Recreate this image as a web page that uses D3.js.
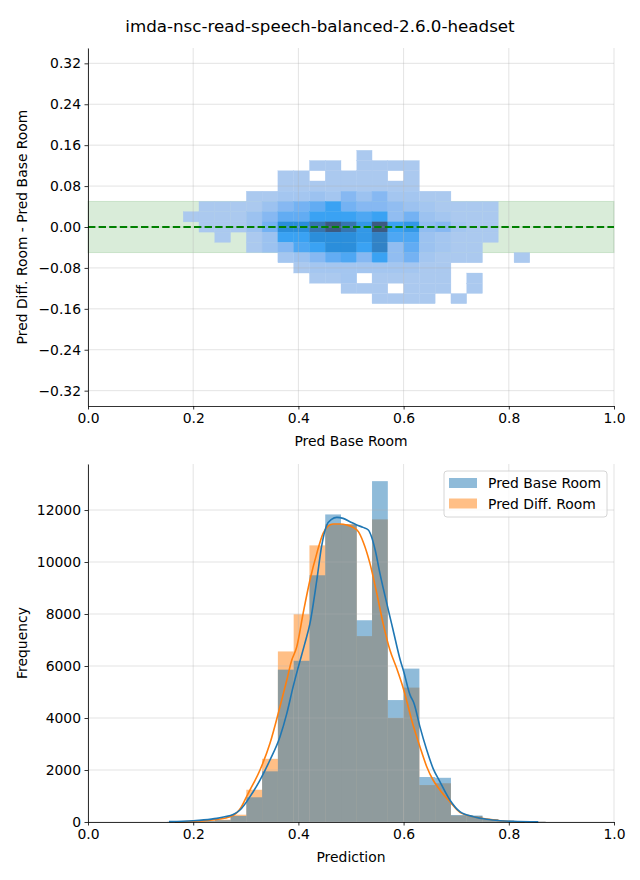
<!DOCTYPE html>
<html>
<head>
<meta charset="utf-8">
<script src="https://cdn.jsdelivr.net/npm/d3@7"></script>
<style>
  body { margin: 0; background: #fff; }
  text { font-family: "DejaVu Sans", sans-serif; }
</style>
</head>
<body>
<svg id="chart" width="640" height="880"></svg>
<script>
// ---------------- DATA ----------------
const title = "imda-nsc-read-speech-balanced-2.6.0-headset";
const seriesNames = ["Pred Base Room", "Pred Diff. Room"];

// histogram bin edges (shared by 1D and 2D histograms)
const binEdges = [0.151, 0.181, 0.211, 0.241, 0.271, 0.301, 0.331, 0.361, 0.391, 0.421,
                  0.451, 0.481, 0.511, 0.540, 0.570, 0.600, 0.630, 0.660, 0.690, 0.720,
                  0.750, 0.780, 0.810, 0.840, 0.870];

// bottom histogram counts per bin
const baseCounts = [10, 20, 40, 70, 230, 950, 1950, 5860, 6200, 9490, 11830, 11440,
                    7760, 13110, 4690, 5900, 1730, 1700, 270, 250, 110, 50, 30, 15];
const diffCounts = [5, 15, 30, 90, 280, 1240, 2430, 6560, 7990, 10640, 11450, 11460,
                    7150, 11640, 4000, 5170, 1420, 1490, 250, 230, 100, 45, 25, 10];

// KDE curves (x, count-scaled density)
const baseKdeX = [0.154, 0.18, 0.20, 0.22, 0.245, 0.26, 0.276, 0.289, 0.308, 0.327, 0.346, 0.365,
                  0.378, 0.390, 0.400, 0.412, 0.422, 0.435, 0.444, 0.454, 0.463, 0.473, 0.485,
                  0.498, 0.511, 0.523, 0.533, 0.539, 0.546, 0.555, 0.568, 0.580, 0.594, 0.600,
                  0.612, 0.620, 0.631, 0.644, 0.656, 0.669, 0.688, 0.707, 0.733, 0.758, 0.783,
                  0.808, 0.856];
const baseKdeY = [15, 30, 50, 80, 140, 200, 290, 462, 974, 1615, 2385, 3282,
                  4179, 5205, 5974, 6850, 7641, 9308, 10590, 11423, 11641, 11718, 11679,
                  11551, 11423, 11333, 11230, 10974, 10462, 9564, 8410, 7385, 6200, 5800,
                  4900, 4550, 3667, 2769, 2064, 1551, 846, 397, 205, 103, 51,
                  26, 5];
const diffKdeX = [0.165, 0.20, 0.245, 0.270, 0.283, 0.291, 0.302, 0.308, 0.327, 0.346, 0.365,
                  0.378, 0.387, 0.397, 0.409, 0.422, 0.435, 0.447, 0.457, 0.466, 0.479,
                  0.492, 0.504, 0.514, 0.523, 0.536, 0.549, 0.561, 0.574, 0.587, 0.600,
                  0.618, 0.631, 0.644, 0.656, 0.669, 0.688, 0.707, 0.733, 0.758, 0.783,
                  0.800, 0.830];
const diffKdeY = [5, 25, 100, 200, 360, 560, 1000, 1231, 2000, 3026, 4436,
                  5462, 6200, 6744, 8026, 9308, 10333, 11103, 11385, 11462, 11462,
                  11423, 11333, 11167, 10782, 9949, 8795, 7641, 6615, 5900, 5100,
                  3730, 2897, 2128, 1615, 1231, 782, 372, 205, 115, 51,
                  20, 5];

// 2D histogram: row centres (difference) and shading level per bin (columns aligned to binEdges)
const rowCenters = [0.14, 0.12, 0.10, 0.08, 0.06, 0.04, 0.02, 0.00, -0.02, -0.04, -0.06, -0.08, -0.10, -0.12, -0.14];
const rowHeight = 0.02;
const density2d = [
 // k: 0  1  2  3  4  5   6   7   8   9  10  11  12  13  14  15  16  17  18  19  20  21  22  23
  [0, 0, 0, 0, 0, 0, 0,  0,  0,  0,  0,  0,  1,  0,  0,  0,  0,  0,  0,  0,  0,  0,  0,  0],
  [0, 0, 0, 0, 0, 0, 0,  0,  0,  1,  1,  0,  1,  1,  1,  1,  0,  0,  0,  0,  0,  0,  0,  0],
  [0, 0, 0, 0, 0, 0, 0,  1,  1,  0,  1,  1,  1,  1,  0,  1,  0,  0,  0,  0,  0,  0,  0,  0],
  [0, 0, 0, 0, 0, 0, 0,  1,  1,  1,  1,  1,  1,  1,  1,  1,  0,  0,  0,  0,  0,  0,  0,  0],
  [0, 0, 0, 0, 0, 1, 1,  1.5,1.5,2,  1.5,3,  2,  3,  1.5,1.5,1,  1,  0,  0,  0,  0,  0,  0],
  [0, 0, 1, 1, 1, 1, 2,  3,  3.5,4,  5,  3.5,3,  3,  2.5,2,  1.5,1,  1,  1,  1,  0,  0,  0],
  [0, 1, 1, 1, 1, 2, 3,  4,  4,  5,  5,  5,  4.5,5,  2.5,3.5,2,  1.5,1,  1,  1,  0,  0,  0],
  [0, 0, 1, 1, 1, 2, 3.5,6,  6,  7,  8,  7,  5.5,8,  5,  5.5,2.5,3,  1.5,1,  1,  0,  0,  0],
  [0, 0, 0, 1, 0, 1, 2,  5,  5,  6,  6,  6,  5.5,6.5,4.5,4.5,2,  1.5,1,  1,  1,  0,  0,  0],
  [0, 0, 0, 0, 0, 1, 2,  3,  4.5,5,  6,  6,  5,  6.5,2.5,4,  2,  1.5,1,  1,  0,  0,  0,  0],
  [0, 0, 0, 0, 0, 0, 0,  1.5,2,  3,  4,  4.5,3,  5,  2.5,3.5,1.5,1,  1,  1,  0,  0,  1,  0],
  [0, 0, 0, 0, 0, 0, 0,  0,  1,  1.5,1.5,1.5,1.5,1.5,1.5,1.5,1,  1,  0,  0,  0,  0,  0,  0],
  [0, 0, 0, 0, 0, 0, 0,  0,  0,  1,  1,  1.5,0,  1,  1,  1,  1,  1,  0,  1,  0,  0,  0,  0],
  [0, 0, 0, 0, 0, 0, 0,  0,  0,  0,  0,  1,  1,  1,  0,  1,  1,  1,  0,  1,  0,  0,  0,  0],
  [0, 0, 0, 0, 0, 0, 0,  0,  0,  0,  0,  0,  0,  1,  1,  1,  1,  0,  1,  0,  0,  0,  0,  0]
];

const bandHalfWidth = 0.05;
const topYTicks = [-0.32, -0.24, -0.16, -0.08, 0, 0.08, 0.16, 0.24, 0.32];
const xTicks = [0, 0.2, 0.4, 0.6, 0.8, 1.0];
const bottomYTicks = [0, 2000, 4000, 6000, 8000, 10000, 12000];

// ---------------- DRAW ----------------
const svg = d3.select("#chart");
const C0 = "#1f77b4", C1 = "#ff7f0e";
const gridStroke = "#b0b0b0";
const FS = 13.9;

svg.append("text").attr("x", 320).attr("y", 32).attr("text-anchor", "middle")
  .attr("font-size", 16.7).text(title);

// ---- Top panel ----
const L = 88, R = 614;
const x1 = d3.scaleLinear().domain([0, 1]).range([L, R]);
const y1 = d3.scaleLinear().domain([-0.35, 0.35]).range([406, 48]);
const topG = svg.append("g");

topG.append("rect")
  .attr("x", x1(0)).attr("width", x1(1) - x1(0))
  .attr("y", y1(bandHalfWidth)).attr("height", y1(-bandHalfWidth) - y1(bandHalfWidth))
  .attr("fill", "green").attr("fill-opacity", 0.15)
  .attr("stroke", "green").attr("stroke-opacity", 0.15).attr("stroke-width", 1);

const shade = d3.scaleLinear()
  .domain([1, 2, 3, 4, 5, 6, 7, 8])
  .range(["#abc9ef", "#9cc2f0", "#86b8f2", "#62acf3", "#3aa2f3", "#2b8edb", "#3675b0", "#3d5a80"])
  .interpolate(d3.interpolateRgb);

const cells = [];
density2d.forEach((row, r) => row.forEach((v, k) => {
  if (v > 0) cells.push({ x0: binEdges[k], x1: binEdges[k + 1], yc: rowCenters[r], v });
}));
topG.append("g").selectAll("rect").data(cells).join("rect")
  .attr("x", d => x1(d.x0)).attr("width", d => x1(d.x1) - x1(d.x0))
  .attr("y", d => y1(d.yc + rowHeight / 2)).attr("height", d => y1(d.yc - rowHeight / 2) - y1(d.yc + rowHeight / 2))
  .attr("fill", d => shade(d.v))
  .attr("stroke", d => shade(d.v)).attr("stroke-width", 0.3);

// grid top
const gTopGrid = topG.append("g").attr("stroke", gridStroke).attr("stroke-opacity", 0.45).attr("stroke-width", 0.8);
gTopGrid.selectAll(".vx").data(xTicks).join("line")
  .attr("x1", d => x1(d)).attr("x2", d => x1(d)).attr("y1", 48).attr("y2", 406);
gTopGrid.selectAll(".hy").data(topYTicks).join("line")
  .attr("y1", d => y1(d)).attr("y2", d => y1(d)).attr("x1", L).attr("x2", R);

// zero dashed line
topG.append("line")
  .attr("x1", x1(0)).attr("x2", x1(1)).attr("y1", y1(0)).attr("y2", y1(0))
  .attr("stroke", "green").attr("stroke-width", 2).attr("stroke-dasharray", "7.4,3.2");

// axes top
const fmt2 = d3.format(".2f"), fmt1 = d3.format(".1f");
const axX1 = topG.append("g").attr("transform", `translate(0,406)`)
  .call(d3.axisBottom(x1).tickValues(xTicks).tickFormat(fmt1).tickSize(3.5).tickPadding(3.5).tickSizeOuter(0));
const axY1 = topG.append("g").attr("transform", `translate(${L},0)`)
  .call(d3.axisLeft(y1).tickValues(topYTicks).tickFormat(fmt2).tickSize(3.5).tickPadding(3.5).tickSizeOuter(0));
[axX1, axY1].forEach(a => {
  a.selectAll("text").attr("font-size", FS).attr("fill", "#000").attr("font-family", "DejaVu Sans, sans-serif");
  a.selectAll("line").attr("stroke", "#000").attr("stroke-width", 0.8);
  a.select(".domain").attr("stroke", "#000").attr("stroke-width", 0.8);
});
topG.append("text").attr("x", 351).attr("y", 446).attr("text-anchor", "middle").attr("font-size", FS).text("Pred Base Room");
topG.append("text").attr("transform", `translate(27,227) rotate(-90)`).attr("text-anchor", "middle").attr("font-size", FS)
  .text("Pred Diff. Room - Pred Base Room");

// ---- Bottom panel ----
const x2 = d3.scaleLinear().domain([0, 1]).range([L, R]);
const y2 = d3.scaleLinear().domain([0, 13770]).range([822, 464]);
const bot = svg.append("g");

function bars(counts, color) {
  bot.append("g").selectAll("rect").data(counts.map((c, k) => ({ c, k }))).join("rect")
    .attr("x", d => x2(binEdges[d.k])).attr("width", d => x2(binEdges[d.k + 1]) - x2(binEdges[d.k]))
    .attr("y", d => y2(d.c)).attr("height", d => y2(0) - y2(d.c))
    .attr("fill", color).attr("fill-opacity", 0.5);
}
bars(diffCounts, C1);
bars(baseCounts, C0);

const gBotGrid = bot.append("g").attr("stroke", gridStroke).attr("stroke-opacity", 0.45).attr("stroke-width", 0.8);
gBotGrid.selectAll(".vx").data(xTicks).join("line")
  .attr("x1", d => x2(d)).attr("x2", d => x2(d)).attr("y1", 464).attr("y2", 822);
gBotGrid.selectAll(".hy").data(bottomYTicks).join("line")
  .attr("y1", d => y2(d)).attr("y2", d => y2(d)).attr("x1", L).attr("x2", R);

const kdeLine = d3.line().x(d => x2(d[0])).y(d => y2(d[1])).curve(d3.curveMonotoneX);
bot.append("path").attr("d", kdeLine(diffKdeX.map((x, i) => [x, diffKdeY[i]])))
  .attr("fill", "none").attr("stroke", C1).attr("stroke-width", 1.6);
bot.append("path").attr("d", kdeLine(baseKdeX.map((x, i) => [x, baseKdeY[i]])))
  .attr("fill", "none").attr("stroke", C0).attr("stroke-width", 1.6);

const axX2 = bot.append("g").attr("transform", `translate(0,822)`)
  .call(d3.axisBottom(x2).tickValues(xTicks).tickFormat(fmt1).tickSize(3.5).tickPadding(3.5).tickSizeOuter(0));
const axY2 = bot.append("g").attr("transform", `translate(${L},0)`)
  .call(d3.axisLeft(y2).tickValues(bottomYTicks).tickFormat(d3.format("d")).tickSize(3.5).tickPadding(3.5).tickSizeOuter(0));
[axX2, axY2].forEach(a => {
  a.selectAll("text").attr("font-size", FS).attr("fill", "#000").attr("font-family", "DejaVu Sans, sans-serif");
  a.selectAll("line").attr("stroke", "#000").attr("stroke-width", 0.8);
  a.select(".domain").attr("stroke", "#000").attr("stroke-width", 0.8);
});
bot.append("text").attr("x", 351).attr("y", 862).attr("text-anchor", "middle").attr("font-size", FS).text("Prediction");
bot.append("text").attr("transform", `translate(27,643) rotate(-90)`).attr("text-anchor", "middle").attr("font-size", FS)
  .text("Frequency");

// legend
const leg = bot.append("g");
leg.append("rect").attr("x", 444).attr("y", 471).attr("width", 163).attr("height", 46).attr("rx", 3)
  .attr("fill", "#fff").attr("fill-opacity", 0.8).attr("stroke", "#cccccc").attr("stroke-width", 0.8);
[C0, C1].forEach((c, i) => {
  leg.append("rect").attr("x", 449).attr("y", 478 + i * 20.5).attr("width", 28).attr("height", 10)
    .attr("fill", c).attr("fill-opacity", 0.5);
  leg.append("text").attr("x", 488).attr("y", 488 + i * 20.5).attr("font-size", FS).text(seriesNames[i]);
});
</script>
</body>
</html>
